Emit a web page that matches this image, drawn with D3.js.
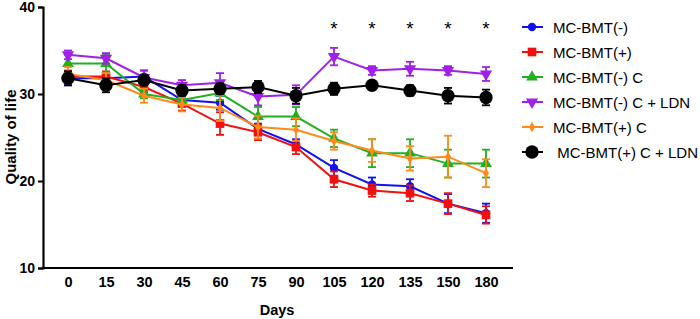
<!doctype html>
<html lang="en">
<head>
    <meta charset="utf-8">
    <title>Quality of life</title>
    <script src="https://d3js.org/d3.v7.min.js"></script>
    <style>
        body { margin: 0; background: #fff; }
        svg text { font-family: "Liberation Sans", Arial, sans-serif; }
    </style>
</head>
<body>
<script>
    // Data
    const days = ["0", "15", "30", "45", "60", "75", "90", "105", "120", "135", "150", "180"];
    const seriesNames = ["MC-BMT(-)", "MC-BMT(+)", "MC-BMT(-) C", "MC-BMT(-) C + LDN", "MC-BMT(+) C", " MC-BMT(+) C + LDN"];

    const bmtNeg      = [31.8, 31.8, 32.0, 29.3, 29.0, 26.0, 24.2, 21.5, 19.6, 19.4, 17.4, 16.3];
    const bmtNegErr   = [0.8, 0.7, 0.7, 0.6, 0.8, 0.6, 0.6, 0.9, 0.8, 0.8, 1.1, 1.1];
    const bmtPos      = [32.0, 32.0, 30.8, 28.9, 26.6, 25.6, 23.9, 20.2, 18.9, 18.6, 17.4, 16.1];
    const bmtPosErr   = [0.7, 0.6, 0.6, 0.8, 1.3, 0.9, 0.8, 0.9, 0.7, 0.9, 1.2, 1.0];
    const bmtNegC     = [33.5, 33.5, 30.0, 29.3, 30.1, 27.4, 27.4, 24.9, 23.2, 23.2, 22.0, 22.0];
    const bmtNegCErr  = [1.0, 1.0, 0.5, 0.5, 0.8, 1.1, 1.1, 1.0, 1.6, 1.6, 1.6, 1.6];
    const bmtNegLdn   = [34.5, 34.1, 31.9, 31.0, 31.3, 29.7, 29.9, 34.3, 32.7, 32.9, 32.7, 32.3];
    const bmtNegLdnErr= [0.5, 0.6, 0.8, 0.6, 1.1, 1.0, 1.1, 1.0, 0.5, 0.8, 0.5, 0.8];
    const bmtPosC     = [32.3, 31.6, 29.8, 28.8, 28.4, 26.2, 25.9, 24.6, 23.5, 22.6, 22.8, 20.9];
    const bmtPosCErr  = [0.8, 0.8, 0.8, 0.8, 1.5, 1.3, 1.3, 1.0, 1.3, 1.4, 2.4, 1.6];
    const bmtPosLdn   = [31.8, 31.0, 31.6, 30.4, 30.6, 30.8, 29.8, 30.6, 31.0, 30.4, 29.8, 29.6];
    const bmtPosLdnErr= [0.8, 0.8, 0.6, 0.6, 0.6, 0.7, 0.9, 0.7, 0.3, 0.6, 0.9, 0.9];

    const starDays = ["105", "120", "135", "150", "180"];
    const yTicks = [10, 20, 30, 40];

    const colors  = ["#1010f0", "#f01010", "#20b020", "#a020e8", "#ff8a1a", "#000000"];
    const symbols = [d3.symbolCircle, d3.symbolSquare, d3.symbolTriangle, "down", d3.symbolDiamond, d3.symbolCircle];
    const symSize = [55, 75, 60, 65, 32, 140];

    const allSeries = [
        { mean: bmtNeg,    err: bmtNegErr },
        { mean: bmtPos,    err: bmtPosErr },
        { mean: bmtNegC,   err: bmtNegCErr },
        { mean: bmtNegLdn, err: bmtNegLdnErr },
        { mean: bmtPosC,   err: bmtPosCErr },
        { mean: bmtPosLdn, err: bmtPosLdnErr }
    ];

    const width = 700, height = 319;
    const svg = d3.select("body").append("svg")
        .attr("width", width)
        .attr("height", height);

    // Scales
    const x = d3.scalePoint().domain(days).range([68, 486]);
    const y = d3.scaleLinear().domain([10, 40]).range([268, 7]);

    // Y axis
    const yAxis = svg.append("g")
        .attr("transform", "translate(43,0)")
        .call(d3.axisLeft(y).tickValues(yTicks).tickSize(5).tickPadding(3));
    yAxis.select(".domain").attr("stroke-width", 2.2);
    yAxis.selectAll(".tick line").attr("stroke-width", 2);
    yAxis.selectAll("text").attr("font-size", 14).attr("font-weight", "bold")
        .style("font-family", "Liberation Sans, Arial, sans-serif");

    // X axis (no tick marks)
    const xAxis = svg.append("g")
        .attr("transform", "translate(0,268)")
        .call(d3.axisBottom(x).tickSize(0).tickPadding(9).tickSizeOuter(0));
    xAxis.select(".domain").attr("d", "M42,0H513").attr("stroke-width", 2.2);
    xAxis.selectAll("text").attr("font-size", 14.5).attr("font-weight", "bold")
        .style("font-family", "Liberation Sans, Arial, sans-serif");

    // Axis titles
    svg.append("text")
        .attr("x", 277).attr("y", 315)
        .attr("text-anchor", "middle")
        .attr("font-size", 14.5).attr("font-weight", "bold")
        .text("Days");
    svg.append("text")
        .attr("transform", "translate(16,137) rotate(-90)")
        .attr("text-anchor", "middle")
        .attr("font-size", 15).attr("font-weight", "bold")
        .text("Quality of life");

    // Markers
    function markerPath(i) {
        if (symbols[i] === "down") return d3.symbol().type(d3.symbolTriangle).size(symSize[i])();
        return d3.symbol().type(symbols[i]).size(symSize[i])();
    }

    const line = d3.line()
        .x(function(d) { return x(d.day); })
        .y(function(d) { return y(d.v); });

    allSeries.forEach(function(s, i) {
        const pts = days.map(function(day, j) { return { day: day, v: s.mean[j], e: s.err[j] }; });
        const g = svg.append("g");

        // error bars
        const eb = g.selectAll("g.eb").data(pts).enter().append("g")
            .attr("stroke", colors[i]).attr("stroke-width", 1.8);
        eb.append("line")
            .attr("x1", function(d) { return x(d.day); }).attr("x2", function(d) { return x(d.day); })
            .attr("y1", function(d) { return y(d.v + d.e); }).attr("y2", function(d) { return y(d.v - d.e); });
        eb.append("line")
            .attr("x1", function(d) { return x(d.day) - 4; }).attr("x2", function(d) { return x(d.day) + 4; })
            .attr("y1", function(d) { return y(d.v + d.e); }).attr("y2", function(d) { return y(d.v + d.e); });
        eb.append("line")
            .attr("x1", function(d) { return x(d.day) - 4; }).attr("x2", function(d) { return x(d.day) + 4; })
            .attr("y1", function(d) { return y(d.v - d.e); }).attr("y2", function(d) { return y(d.v - d.e); });

        g.append("path").datum(pts)
            .attr("fill", "none")
            .attr("stroke", colors[i])
            .attr("stroke-width", 2)
            .attr("d", line);

        g.selectAll("path.m").data(pts).enter().append("path")
            .attr("d", markerPath(i))
            .attr("transform", function(d) {
                return "translate(" + x(d.day) + "," + y(d.v) + ")" + (symbols[i] === "down" ? " rotate(180)" : "");
            })
            .attr("fill", colors[i]);
    });

    // Significance stars
    svg.selectAll("text.star").data(starDays).enter().append("text")
        .attr("x", function(d) { return x(d); })
        .attr("y", 35)
        .attr("text-anchor", "middle")
        .attr("font-size", 19)
        .text("*");

    // Legend
    const legend = svg.append("g");
    seriesNames.forEach(function(name, i) {
        const ly = 27 + i * 25;
        legend.append("line")
            .attr("x1", 522).attr("x2", 543).attr("y1", ly).attr("y2", ly)
            .attr("stroke", colors[i]).attr("stroke-width", 2);
        legend.append("path")
            .attr("d", markerPath(i))
            .attr("transform", "translate(532," + ly + ")" + (symbols[i] === "down" ? " rotate(180)" : ""))
            .attr("fill", colors[i]);
        legend.append("text")
            .attr("x", 553).attr("y", ly + 5.5)
            .attr("font-size", 15)
            .style("white-space", "pre")
            .text(name);
    });
</script>
</body>
</html>
